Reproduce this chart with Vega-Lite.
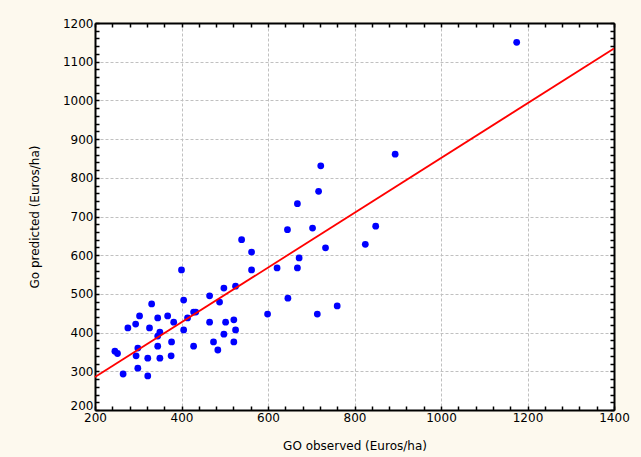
{
  "$schema": "https://vega.github.io/schema/vega-lite/v6.json",
  "width": 519,
  "height": 387,
  "autosize": {"type": "none"},
  "padding": {"left": 95, "top": 23, "right": 27, "bottom": 47},
  "background": "#fdf9ee",
  "view": {"fill": "white", "stroke": null},
  "config": {
    "font": "DejaVu Sans",
    "axis": {
      "labelFont": "DejaVu Sans",
      "labelFontSize": 12,
      "labelColor": "black",
      "titleFont": "DejaVu Sans",
      "titleFontSize": 12,
      "titleFontWeight": "normal",
      "titleColor": "black",
      "domainColor": "black",
      "domainWidth": 2,
      "tickColor": "black",
      "tickWidth": 1.5,
      "gridColor": "#c0c0c0",
      "gridDash": [3, 2],
      "gridWidth": 1
    }
  },
  "datasets": {
    "points": [
      {"observed": 1175, "predicted": 1150},
      {"observed": 894, "predicted": 861},
      {"observed": 849, "predicted": 675},
      {"observed": 825, "predicted": 628},
      {"observed": 722, "predicted": 831},
      {"observed": 717, "predicted": 765},
      {"observed": 668, "predicted": 733},
      {"observed": 703, "predicted": 670},
      {"observed": 645, "predicted": 666},
      {"observed": 733, "predicted": 619},
      {"observed": 672, "predicted": 593},
      {"observed": 621, "predicted": 567},
      {"observed": 668, "predicted": 567},
      {"observed": 646, "predicted": 489},
      {"observed": 714, "predicted": 448},
      {"observed": 760, "predicted": 469},
      {"observed": 599, "predicted": 448},
      {"observed": 539, "predicted": 640},
      {"observed": 562, "predicted": 608},
      {"observed": 562, "predicted": 562},
      {"observed": 400, "predicted": 562},
      {"observed": 405, "predicted": 484},
      {"observed": 465, "predicted": 495},
      {"observed": 488, "predicted": 479},
      {"observed": 498, "predicted": 515},
      {"observed": 525, "predicted": 520},
      {"observed": 331, "predicted": 474},
      {"observed": 303, "predicted": 443},
      {"observed": 345, "predicted": 438},
      {"observed": 368, "predicted": 443},
      {"observed": 382, "predicted": 427},
      {"observed": 414, "predicted": 438},
      {"observed": 428, "predicted": 453},
      {"observed": 433, "predicted": 453},
      {"observed": 276, "predicted": 412},
      {"observed": 294, "predicted": 422},
      {"observed": 326, "predicted": 412},
      {"observed": 350, "predicted": 401},
      {"observed": 345, "predicted": 391},
      {"observed": 405, "predicted": 407},
      {"observed": 465, "predicted": 427},
      {"observed": 502, "predicted": 427},
      {"observed": 521, "predicted": 433},
      {"observed": 525, "predicted": 407},
      {"observed": 498, "predicted": 396},
      {"observed": 246, "predicted": 352},
      {"observed": 252, "predicted": 346},
      {"observed": 299, "predicted": 360},
      {"observed": 377, "predicted": 376},
      {"observed": 345, "predicted": 365},
      {"observed": 428, "predicted": 365},
      {"observed": 474, "predicted": 376},
      {"observed": 521, "predicted": 376},
      {"observed": 484, "predicted": 355},
      {"observed": 295, "predicted": 340},
      {"observed": 322, "predicted": 334},
      {"observed": 350, "predicted": 334},
      {"observed": 376, "predicted": 340},
      {"observed": 299, "predicted": 308},
      {"observed": 265, "predicted": 293},
      {"observed": 322, "predicted": 288}
    ],
    "fit": [
      {"observed": 200, "predicted": 285},
      {"observed": 1400, "predicted": 1134}
    ]
  },
  "layer": [
    {
      "data": {"name": "points"},
      "mark": {"type": "circle", "color": "#0000ff", "opacity": 1, "size": 46},
      "encoding": {
        "x": {
          "field": "observed", "type": "quantitative",
          "scale": {"domain": [200, 1400], "nice": false, "zero": false},
          "axis": {
            "title": "GO observed (Euros/ha)",
            "values": [200, 240, 280, 320, 360, 400, 440, 480, 520, 560, 600, 640, 680, 720, 760, 800, 840, 880, 920, 960, 1000, 1040, 1080, 1120, 1160, 1200, 1240, 1280, 1320, 1360, 1400],
            "labelExpr": "datum.value % 200 === 0 ? datum.label : ''",
            "format": "d",
            "tickSize": -4,
            "labelPadding": 6,
            "titlePadding": 17,
            "grid": true,
            "gridOpacity": {"condition": {"test": "datum.value % 200 === 0", "value": 1}, "value": 0},
            "labelFlush": false,
            "labelOverlap": false
          }
        },
        "y": {
          "field": "predicted", "type": "quantitative",
          "scale": {"domain": [200, 1200], "nice": false, "zero": false},
          "axis": {
            "title": "Go predicted (Euros/ha)",
            "values": [200, 220, 240, 260, 280, 300, 320, 340, 360, 380, 400, 420, 440, 460, 480, 500, 520, 540, 560, 580, 600, 620, 640, 660, 680, 700, 720, 740, 760, 780, 800, 820, 840, 860, 880, 900, 920, 940, 960, 980, 1000, 1020, 1040, 1060, 1080, 1100, 1120, 1140, 1160, 1180, 1200],
            "labelExpr": "datum.value % 100 === 0 ? datum.label : ''",
            "labelOffset": {"condition": {"test": "datum.value === 200", "value": -5}, "value": 0},
            "format": "d",
            "tickSize": -4,
            "labelPadding": 6,
            "titlePadding": 21,
            "grid": true,
            "gridOpacity": {"condition": {"test": "datum.value % 100 === 0", "value": 1}, "value": 0},
            "labelFlush": false,
            "labelOverlap": false
          }
        }
      }
    },
    {
      "data": {"name": "fit"},
      "mark": {"type": "line", "color": "#ff0000", "strokeWidth": 1.8},
      "encoding": {
        "x": {
          "field": "observed", "type": "quantitative",
          "scale": {"domain": [200, 1400], "nice": false, "zero": false},
          "axis": {
            "orient": "top", "title": null, "labels": false, "grid": false,
            "values": [200, 240, 280, 320, 360, 400, 440, 480, 520, 560, 600, 640, 680, 720, 760, 800, 840, 880, 920, 960, 1000, 1040, 1080, 1120, 1160, 1200, 1240, 1280, 1320, 1360, 1400],
            "tickSize": -4
          }
        },
        "y": {
          "field": "predicted", "type": "quantitative",
          "scale": {"domain": [200, 1200], "nice": false, "zero": false},
          "axis": {
            "orient": "right", "title": null, "labels": false, "grid": false,
            "values": [200, 220, 240, 260, 280, 300, 320, 340, 360, 380, 400, 420, 440, 460, 480, 500, 520, 540, 560, 580, 600, 620, 640, 660, 680, 700, 720, 740, 760, 780, 800, 820, 840, 860, 880, 900, 920, 940, 960, 980, 1000, 1020, 1040, 1060, 1080, 1100, 1120, 1140, 1160, 1180, 1200],
            "tickSize": -4
          }
        }
      }
    }
  ],
  "resolve": {"axis": {"x": "independent", "y": "independent"}}
}
